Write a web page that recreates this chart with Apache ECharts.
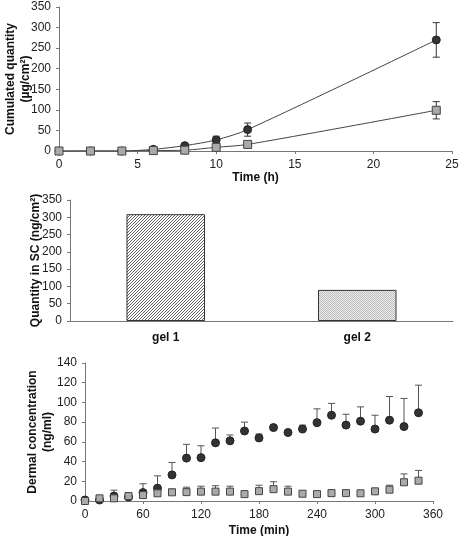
<!DOCTYPE html>
<html><head><meta charset="utf-8">
<script src="https://cdn.jsdelivr.net/npm/echarts@6/dist/echarts.min.js"></script>
<style>html,body{margin:0;padding:0;background:#fff}#c{width:460px;height:536px}</style>
</head><body><div id="c"></div>
<script>
// ---- Panel A: cumulated quantity (µg/cm²) vs time (h)
var timeH = [0, 2, 4, 6, 8, 10, 12, 24];
var gel1Cum = [0, 0, 0, 4, 13, 27, 52, 270];
var gel1CumErr = [0, 0, 0, 1, 3, 9, 16, 42];
var gel2Cum = [0, 0, 0, 1, 2, 9, 16, 99];
var gel2CumErr = [0, 0, 0, 0, 1, 2, 2, 21];

// ---- Panel B: quantity in SC (ng/cm²)
var gels = ['gel 1', 'gel 2'];
var scQty = [309, 90];

// ---- Panel C: dermal concentration (ng/ml) vs time (min)
var timeMin = [0,15,30,45,60,75,90,105,120,135,150,165,180,195,210,225,240,255,270,285,300,315,330,345];
var gel1Derm = [1,1,5,4,8.5,13,26.5,43.5,44,59,61,71,64,74.5,69.5,73,79.5,87,77,81,73,82,75.5,89.5];
var gel1DermTop = [1,1,11,4,17.5,25.5,39,57.5,56,74,67,80,68,74.5,69.5,77,93.5,99,88,95.5,87,106,104,117.5];
var gel2Derm = [0,2.7,2.7,5,6,7.8,8.8,9,9.5,9.5,9.5,7,10,12,9.5,7.4,7,8,8,7.8,9.8,11.5,19,20.6];
var gel2DermTop = [0,2.7,2.7,5,6,10,12,14,15,15.5,15,7,16,19.5,15,7.4,7,8.5,8.5,7.8,10.5,16,27.5,31];

function pattern1(){
  var c = document.createElement('canvas'); c.width = 3; c.height = 3;
  var g = c.getContext('2d'); g.fillStyle = '#fff'; g.fillRect(0,0,3,3);
  g.fillStyle = '#666';
  for (var i=0;i<3;i++){ g.fillRect(i, 2-i, 1, 1); }
  return c;
}
function pattern2(){
  var c = document.createElement('canvas'); c.width = 2; c.height = 2;
  var g = c.getContext('2d'); g.fillStyle = '#eeeeee'; g.fillRect(0,0,2,2);
  g.fillStyle = '#bcbcbc'; g.fillRect(0,0,1,1); g.fillRect(1,1,1,1);
  return c;
}

var font = 'Liberation Sans, Arial, sans-serif';
var axisLine = {lineStyle:{color:'#777', width:1}};
var axisTick = {lineStyle:{color:'#777'}, length:3};
var axisLabel = {color:'#222', fontSize:12, fontFamily:font};
var nameStyle = {color:'#111', fontSize:12, fontWeight:'bold', fontFamily:font, lineHeight:15};

function errBar(both, color){
  return function(params, api){
    var x = api.value(0), lo = api.value(1), hi = api.value(2);
    if (hi - lo <= 0) return null;
    var pH = api.coord([x, hi]), pL = api.coord([x, lo]);
    var st = {stroke: color, lineWidth: 1};
    var ch = [
      {type:'line', shape:{x1:pH[0], y1:pH[1], x2:pL[0], y2:pL[1]}, style:st},
      {type:'line', shape:{x1:pH[0]-3.5, y1:pH[1], x2:pH[0]+3.5, y2:pH[1]}, style:st}
    ];
    if (both) ch.push({type:'line', shape:{x1:pL[0]-3.5, y1:pL[1], x2:pL[0]+3.5, y2:pL[1]}, style:st});
    return {type:'group', children:ch};
  };
}

var errA1 = timeH.map(function(t,i){return [t, gel1Cum[i]-gel1CumErr[i], gel1Cum[i]+gel1CumErr[i]];});
var errA2 = timeH.map(function(t,i){return [t, gel2Cum[i]-gel2CumErr[i], gel2Cum[i]+gel2CumErr[i]];});
var errC1 = timeMin.map(function(t,i){return [t, gel1Derm[i], gel1DermTop[i]];});
var errC2 = timeMin.map(function(t,i){return [t, gel2Derm[i], gel2DermTop[i]];});

var chart = echarts.init(document.getElementById('c'), null, {renderer:'canvas'});
chart.setOption({
  animation:false,
  backgroundColor:'#fff',
  grid:[
    {left:59, right:8, top:7, height:144, containLabel:false, outerBoundsMode:'none'},
    {left:70, right:7, top:200, height:121, containLabel:false, outerBoundsMode:'none'},
    {left:85, right:27, top:363, height:138, containLabel:false, outerBoundsMode:'none'}
  ],
  xAxis:[
    {gridIndex:0, type:'value', min:0, max:25, interval:5, splitLine:{show:false},
     axisLine:axisLine, axisTick:axisTick, axisLabel:axisLabel,
     name:'Time (h)', nameLocation:'middle', nameGap:19, nameMoveOverlap:false, nameTextStyle:nameStyle},
    {gridIndex:1, type:'category', data:gels, axisLine:axisLine, axisTick:axisTick,
     axisLabel:{color:'#111', fontSize:12, fontWeight:'bold', fontFamily:font, margin:11}},
    {gridIndex:2, type:'value', min:0, max:360, interval:60, splitLine:{show:false},
     axisLine:axisLine, axisTick:axisTick, axisLabel:axisLabel,
     name:'Time (min)', nameLocation:'middle', nameGap:22, nameMoveOverlap:false, nameTextStyle:nameStyle}
  ],
  yAxis:[
    {gridIndex:0, type:'value', min:0, max:350, interval:50, splitLine:{show:false},
     axisLine:{show:true, lineStyle:{color:'#777'}}, axisTick:{show:true, lineStyle:{color:'#777'}, length:3}, axisLabel:axisLabel,
     name:'Cumulated quantity\n(µg/cm²)', nameLocation:'middle', nameGap:26, nameMoveOverlap:false, nameRotate:90, nameTextStyle:nameStyle},
    {gridIndex:1, type:'value', min:0, max:350, interval:50, splitLine:{show:false},
     axisLine:{show:true, lineStyle:{color:'#777'}}, axisTick:{show:true, lineStyle:{color:'#777'}, length:3}, axisLabel:axisLabel,
     name:'Quantity in SC (ng/cm²)', nameLocation:'middle', nameGap:27, nameMoveOverlap:false, nameRotate:90, nameTextStyle:nameStyle},
    {gridIndex:2, type:'value', min:0, max:140, interval:20, splitLine:{show:false},
     axisLine:{show:true, lineStyle:{color:'#777'}}, axisTick:{show:true, lineStyle:{color:'#777'}, length:3}, axisLabel:axisLabel,
     name:'Dermal concentration\n(ng/ml)', nameLocation:'middle', nameGap:30, nameMoveOverlap:false, nameRotate:90, nameTextStyle:nameStyle}
  ],
  series:[
    {type:'custom', xAxisIndex:0, yAxisIndex:0, data:errA1, renderItem:errBar(true,'#333'), z:1},
    {type:'custom', xAxisIndex:0, yAxisIndex:0, data:errA2, renderItem:errBar(true,'#333'), z:1},
    {type:'line', xAxisIndex:0, yAxisIndex:0, smooth:0.3,
     data:timeH.map(function(t,i){return [t, gel1Cum[i]];}),
     symbol:'circle', symbolSize:8, lineStyle:{color:'#444', width:1},
     itemStyle:{color:'#333', borderColor:'#222', borderWidth:1}, z:3},
    {type:'line', xAxisIndex:0, yAxisIndex:0, smooth:0.3,
     data:timeH.map(function(t,i){return [t, gel2Cum[i]];}),
     symbol:'rect', symbolSize:8, lineStyle:{color:'#444', width:1},
     itemStyle:{color:'#aaa', borderColor:'#444', borderWidth:1}, z:4},
    {type:'bar', xAxisIndex:1, yAxisIndex:1, barWidth:'41%',
     data:[
       {value:scQty[0], itemStyle:{color:{image:pattern1(), repeat:'repeat'}, borderColor:'#333', borderWidth:1}},
       {value:scQty[1], itemStyle:{color:{image:pattern2(), repeat:'repeat'}, borderColor:'#333', borderWidth:1}}
     ]},
    {type:'custom', xAxisIndex:2, yAxisIndex:2, data:errC1, renderItem:errBar(false,'#555'), z:1},
    {type:'custom', xAxisIndex:2, yAxisIndex:2, data:errC2, renderItem:errBar(false,'#555'), z:1},
    {type:'scatter', xAxisIndex:2, yAxisIndex:2,
     data:timeMin.map(function(t,i){return [t, gel1Derm[i]];}),
     symbol:'circle', symbolSize:8, itemStyle:{color:'#333', borderColor:'#222', borderWidth:1, opacity:1}, z:3},
    {type:'scatter', xAxisIndex:2, yAxisIndex:2,
     data:timeMin.map(function(t,i){return [t, gel2Derm[i]];}),
     symbol:'rect', symbolSize:7, itemStyle:{color:'#aaa', borderColor:'#444', borderWidth:1, opacity:1}, z:4}
  ]
});
</script></body></html>
